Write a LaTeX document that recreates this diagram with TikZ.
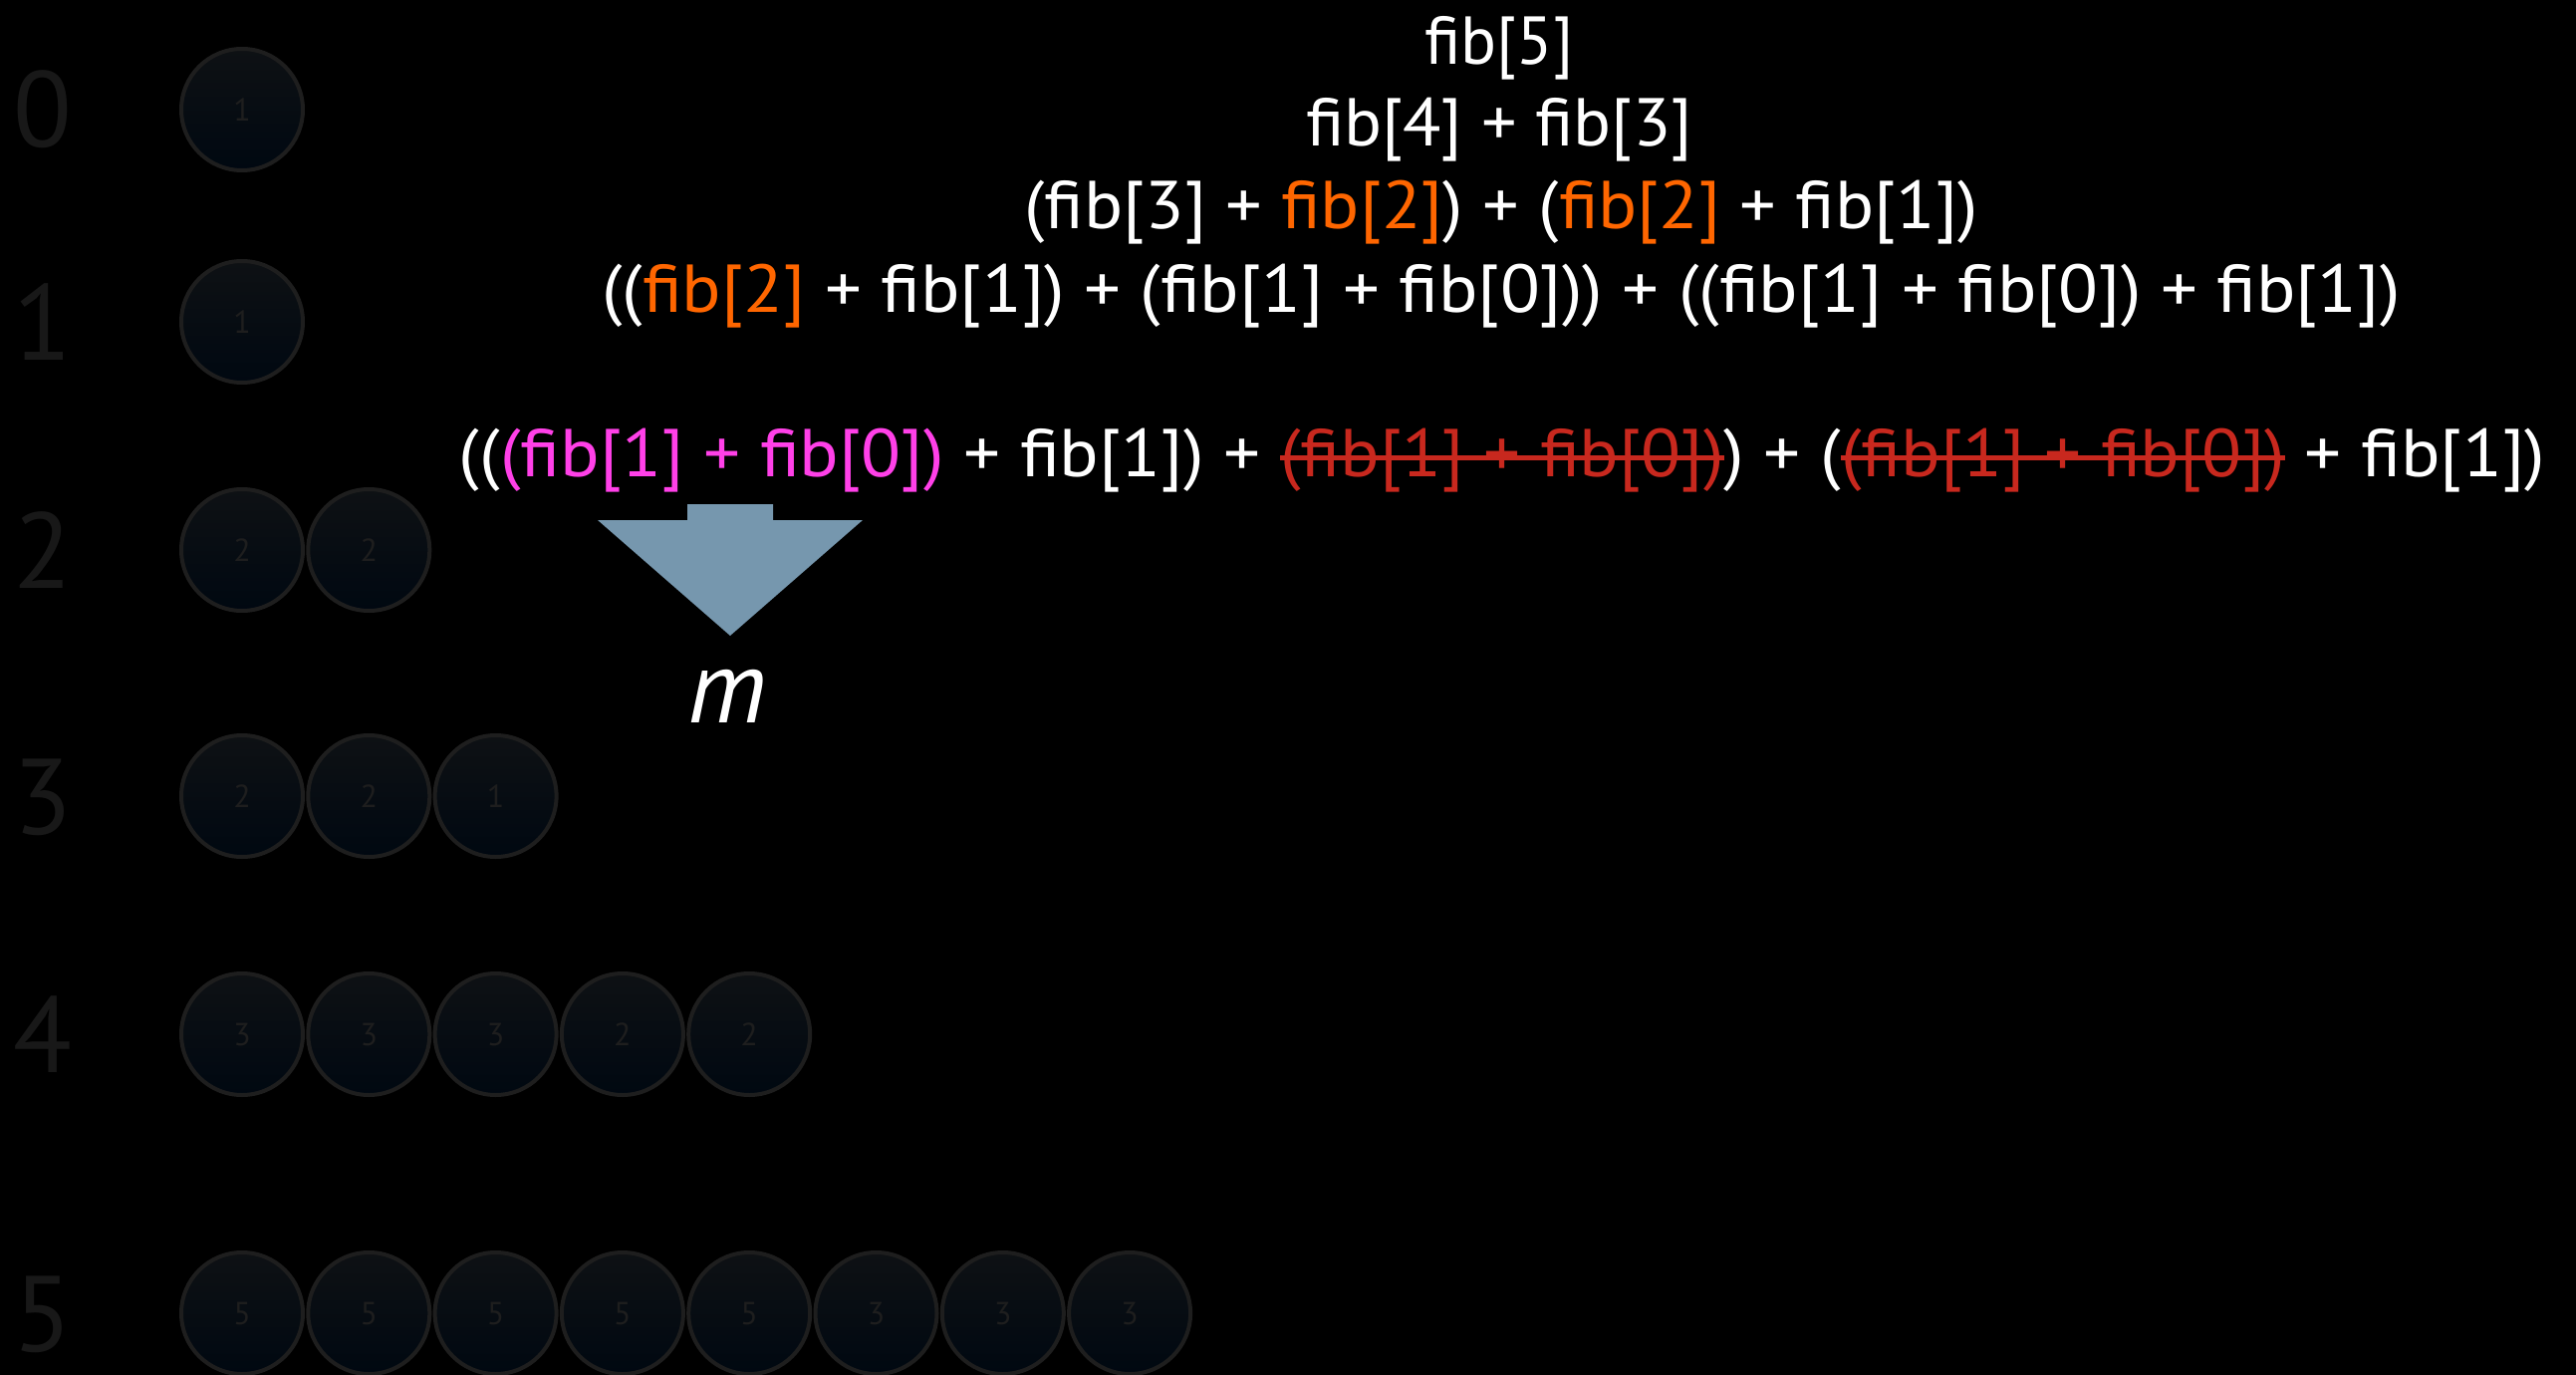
\documentclass[tikz,border=0pt]{standalone}
\usepackage{fontspec}
\setmainfont{PT Sans}
\usepackage{graphicx}
\definecolor{arrowc}{HTML}{7697AE}
\definecolor{magc}{HTML}{FF40E8}
\definecolor{orc}{HTML}{FF6600}
\definecolor{redc}{HTML}{C8281E}
\definecolor{ringc}{HTML}{1E1E1E}
\definecolor{digc}{HTML}{181818}
\definecolor{cointop}{HTML}{0E1114}
\definecolor{coinbot}{HTML}{000811}
\newcommand\strk[1]{\setbox0\hbox{#1}\rlap{\rule[16pt]{\wd0}{5pt}}\box0}
\begin{document}
\begin{tikzpicture}[x=1pt,y=-1pt,
  coin/.style={circle,minimum size=122pt,inner sep=0pt,draw=ringc,line width=4pt,
    top color=cointop,bottom color=coinbot,text=ringc,font=\fontsize{32}{34}\selectfont},
  rowlab/.style={anchor=base,text=digc,inner sep=0pt,text depth=0pt,font=\fontsize{108}{110}\selectfont},
  expr/.style={anchor=base,text=white,inner sep=0pt,font=\fontsize{68}{74}\selectfont}]
\fill[black] (0,0) rectangle (2586,1380);
\useasboundingbox (0,0) rectangle (2586,1380);
% row labels
\node[rowlab] (r0) at (43,148) {0};
\node[rowlab] (r1) at (43,361) {1};
\node[rowlab] (r2) at (43,590) {2};
\node[rowlab] (r3) at (43,837) {3};
\node[rowlab] (r4) at (43,1076) {4};
\node[rowlab] (r5) at (43,1356) {5};
% coins
\foreach \v [count=\i from 0] in {1} {\node[coin] (c0\i) at ({243+127.3*\i},110) {\v};}
\foreach \v [count=\i from 0] in {1} {\node[coin] (c1\i) at ({243+127.3*\i},323) {\v};}
\foreach \v [count=\i from 0] in {2,2} {\node[coin] (c2\i) at ({243+127.3*\i},552) {\v};}
\foreach \v [count=\i from 0] in {2,2,1} {\node[coin] (c3\i) at ({243+127.3*\i},799) {\v};}
\foreach \v [count=\i from 0] in {3,3,3,2,2} {\node[coin] (c4\i) at ({243+127.3*\i},1038) {\v};}
\foreach \v [count=\i from 0] in {5,5,5,5,5,3,3,3} {\node[coin] (c5\i) at ({243+127.3*\i},1318) {\v};}
% expressions
\node[expr] (e1) at (1505,65) {\resizebox{149pt}{\height}{fib[5]}};
\node[expr] (e2) at (1505,147) {\resizebox{388pt}{\height}{fib[4] + fib[3]}};
\node[expr] (e3) at (1507,230) {\resizebox{957pt}{\height}{(fib[3] + \textcolor{orc}{fib[2]}) + (\textcolor{orc}{fib[2]} + fib[1])}};
\node[expr] (e4) at (1507,313) {\resizebox{1805pt}{\height}{((\textcolor{orc}{fib[2]} + fib[1]) + (fib[1] + fib[0])) + ((fib[1] + fib[0]) + fib[1])}};
\node[expr] (e5) at (1508,478) {\resizebox{2094pt}{\height}{((\textcolor{magc}{(fib[1] + fib[0])} + fib[1]) + \textcolor{redc}{\strk{(fib[1] + fib[0])}}) + (\textcolor{redc}{\strk{(fib[1] + fib[0])}} + fib[1])}};
% arrow
\fill[arrowc] (690,506) -- (776,506) -- (776,522) -- (866,522) -- (733,638) -- (600,522) -- (690,522) -- cycle;
\node[anchor=base,text=white,inner sep=0pt,font=\fontsize{104}{110}\selectfont\itshape] (m) at (730,725) {m};
\end{tikzpicture}
\end{document}
